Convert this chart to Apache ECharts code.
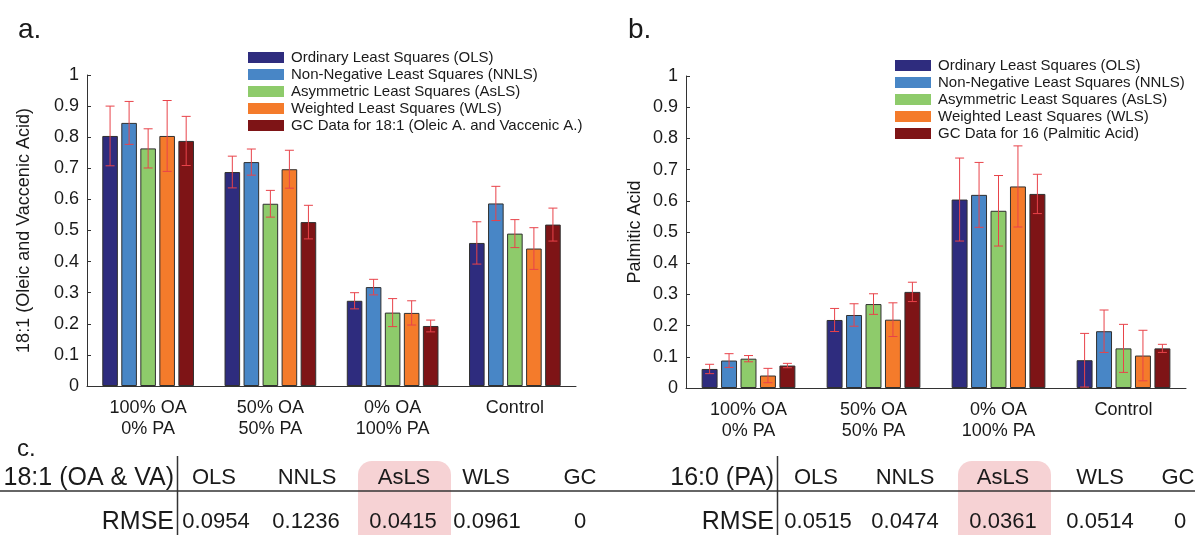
<!DOCTYPE html>
<html>
<head>
<meta charset="utf-8">
<script src="https://cdn.jsdelivr.net/npm/echarts@6/dist/echarts.min.js"></script>
<style>
html, body { margin: 0; padding: 0; background: #fff; }
#main { width: 1195px; height: 535px; }
</style>
</head>
<body>
<div id="main"></div>
<script>
// categories and legend names
var categories = ['100% OA\n0% PA', '50% OA\n50% PA', '0% OA\n100% PA', 'Control'];
var methodNames = ['Ordinary Least Squares (OLS)', 'Non-Negative Least Squares (NNLS)',
    'Asymmetric Least Squares (AsLS)', 'Weighted Least Squares (WLS)'];
var gcNameA = 'GC Data for 18:1 (Oleic A. and Vaccenic A.)';
var gcNameB = 'GC Data for 16 (Palmitic Acid)';

// a. 18:1 (oleic + vaccenic), bar height and error half-width
var olsA = [0.804, 0.688, 0.274, 0.460];
var nnlsA = [0.846, 0.720, 0.318, 0.587];
var aslsA = [0.764, 0.586, 0.236, 0.490];
var wlsA = [0.804, 0.697, 0.235, 0.442];
var gcA = [0.788, 0.527, 0.193, 0.519];
var olsErrA = [0.096, 0.051, 0.026, 0.068];
var nnlsErrA = [0.069, 0.042, 0.025, 0.055];
var aslsErrA = [0.063, 0.043, 0.045, 0.045];
var wlsErrA = [0.114, 0.061, 0.039, 0.067];
var gcErrA = [0.079, 0.054, 0.019, 0.053];

// b. palmitic acid
var olsB = [0.061, 0.218, 0.604, 0.089];
var nnlsB = [0.088, 0.234, 0.619, 0.182];
var aslsB = [0.094, 0.269, 0.568, 0.127];
var wlsB = [0.040, 0.219, 0.646, 0.104];
var gcB = [0.072, 0.308, 0.622, 0.127];
var olsErrB = [0.015, 0.037, 0.133, 0.086];
var nnlsErrB = [0.022, 0.036, 0.104, 0.068];
var aslsErrB = [0.010, 0.033, 0.113, 0.077];
var wlsErrB = [0.023, 0.054, 0.130, 0.081];
var gcErrB = [0.007, 0.031, 0.063, 0.013];

// c. RMSE table
var tableCols = ['OLS', 'NNLS', 'AsLS', 'WLS', 'GC'];
var rmseA = ['0.0954', '0.1236', '0.0415', '0.0961', '0'];
var rmseB = ['0.0515', '0.0474', '0.0361', '0.0514', '0'];

var colors = ['#2e2c7e', '#4886c6', '#8ecb6b', '#f47b2b', '#7e1416'];
var FONT = 'Liberation Sans, Arial, Helvetica, sans-serif';
var CAT_GAP = 0.25, BAR_GAP = 0.22, NSER = 5;

var chart = echarts.init(document.getElementById('main'), null, { renderer: 'canvas' });

// error bar: vertical line with caps, shifted to the bar's slot in the group
function errorItem(params, api) {
    var ci = api.value(0), v = api.value(1), e = api.value(2), si = api.value(3);
    var band = api.size([1, 0])[0];
    var group = band * (1 - CAT_GAP);
    var bw = group / (NSER + (NSER - 1) * BAR_GAP);
    var off = -group / 2 + bw / 2 + si * bw * (1 + BAR_GAP);
    var hi = api.coord([ci, v + e]);
    var lo = api.coord([ci, v - e]);
    var x = hi[0] + off;
    var cap = 4.5;
    var st = { stroke: '#e8434a', lineWidth: 1 };
    return {
        type: 'group',
        children: [
            { type: 'line', shape: { x1: x, y1: hi[1], x2: x, y2: lo[1] }, style: st },
            { type: 'line', shape: { x1: x - cap, y1: hi[1], x2: x + cap, y2: hi[1] }, style: st },
            { type: 'line', shape: { x1: x - cap, y1: lo[1], x2: x + cap, y2: lo[1] }, style: st }
        ]
    };
}

function errData(vals, errs) {
    var out = [];
    for (var s = 0; s < vals.length; s++) {
        for (var i = 0; i < vals[s].length; i++) {
            out.push([i, vals[s][i], errs[s][i], s]);
        }
    }
    return out;
}

var valsA = [olsA, nnlsA, aslsA, wlsA, gcA];
var errsA = [olsErrA, nnlsErrA, aslsErrA, wlsErrA, gcErrA];
var valsB = [olsB, nnlsB, aslsB, wlsB, gcB];
var errsB = [olsErrB, nnlsErrB, aslsErrB, wlsErrB, gcErrB];
var namesA = methodNames.concat([gcNameA]);
var namesB = methodNames.concat([gcNameB]);

var series = [];
function addBars(vals, names, idx) {
    for (var s = 0; s < vals.length; s++) {
        series.push({
            name: names[s],
            type: 'bar',
            xAxisIndex: idx,
            yAxisIndex: idx,
            data: vals[s],
            barCategoryGap: (CAT_GAP * 100) + '%',
            barGap: (BAR_GAP * 100) + '%',
            itemStyle: { color: colors[s], borderColor: '#303030', borderWidth: 1 },
            emphasis: { disabled: true },
            animation: false
        });
    }
}
addBars(valsA, namesA, 0);
addBars(valsB, namesB, 1);
series.push({ type: 'custom', xAxisIndex: 0, yAxisIndex: 0, renderItem: errorItem,
    data: errData(valsA, errsA), z: 5, animation: false, silent: true });
series.push({ type: 'custom', xAxisIndex: 1, yAxisIndex: 1, renderItem: errorItem,
    data: errData(valsB, errsB), z: 5, animation: false, silent: true });

function xAx(idx) {
    return {
        type: 'category', gridIndex: idx, data: categories,
        axisLine: { lineStyle: { color: '#333', width: 1 } },
        axisTick: { show: false },
        axisLabel: { fontSize: 18, color: '#1a1a1a', fontFamily: FONT, lineHeight: 21, margin: 12, interval: 0 }
    };
}
function yAx(idx, name, gap) {
    return {
        type: 'value', gridIndex: idx, min: 0, max: 1, interval: 0.1,
        name: name, nameLocation: 'middle', nameGap: gap,
        nameTextStyle: { fontSize: 18, color: '#1a1a1a', fontFamily: FONT },
        axisLine: { show: true, lineStyle: { color: '#333', width: 1 } },
        axisTick: { show: true, inside: true, length: 4, lineStyle: { color: '#333' } },
        splitLine: { show: false },
        axisLabel: { fontSize: 18, color: '#1a1a1a', fontFamily: FONT, margin: 8,
            formatter: function (v) { return String(Math.round(v * 10) / 10); } }
    };
}

function legend(names, left, top) {
    return {
        orient: 'vertical', left: left, top: top, data: names, padding: 0,
        itemWidth: 36, itemHeight: 11, itemGap: 2,
        icon: 'rect', selectedMode: false,
        itemStyle: { borderWidth: 0 },
        textStyle: { fontSize: 15, color: '#1a1a1a', fontFamily: FONT, padding: [0, 0, 0, 2] }
    };
}

// table graphics
var graphic = [];
function txt(x, y, s, size, align) {
    graphic.push({ type: 'text', x: x, y: y,
        style: { text: s, fontSize: size, fontFamily: FONT, fill: '#1a1a1a',
            textAlign: align || 'center', textVerticalAlign: 'middle' } });
}
txt(18, 30, 'a.', 28, 'left');
txt(628, 30, 'b.', 28, 'left');
txt(17, 449, 'c.', 24, 'left');

var HEAD_Y = 478, ROW_Y = 522, RULE_Y = 491;
var colXA = [214, 307, 404, 486, 580];
var valXA = [216, 306, 403, 487, 580];
var colXB = [816, 905, 1003, 1100, 1178];
var valXB = [818, 905, 1003, 1100, 1180];

// highlight boxes behind AsLS
graphic.push({ type: 'rect', x: 358, y: 461, shape: { width: 93, height: 90, r: 14 },
    style: { fill: '#f6d2d4' }, z: -1 });
graphic.push({ type: 'rect', x: 958, y: 461, shape: { width: 93, height: 90, r: 14 },
    style: { fill: '#f6d2d4' }, z: -1 });
graphic.push({ type: 'line', shape: { x1: 0, y1: RULE_Y, x2: 1195, y2: RULE_Y },
    style: { stroke: '#333', lineWidth: 1.5 } });
graphic.push({ type: 'line', shape: { x1: 177.5, y1: 456, x2: 177.5, y2: 535 },
    style: { stroke: '#333', lineWidth: 1.5 } });
graphic.push({ type: 'line', shape: { x1: 777.5, y1: 456, x2: 777.5, y2: 535 },
    style: { stroke: '#333', lineWidth: 1.5 } });

txt(174, HEAD_Y, '18:1 (OA & VA)', 25, 'right');
txt(174, ROW_Y, 'RMSE', 25, 'right');
txt(774, HEAD_Y, '16:0 (PA)', 25, 'right');
txt(774, ROW_Y, 'RMSE', 25, 'right');
for (var k = 0; k < tableCols.length; k++) {
    txt(colXA[k], HEAD_Y, tableCols[k], 22);
    txt(valXA[k], ROW_Y, rmseA[k], 22);
    txt(colXB[k], HEAD_Y, tableCols[k], 22);
    txt(valXB[k], ROW_Y, rmseB[k], 22);
}

var option = {
    backgroundColor: '#fff',
    animation: false,
    textStyle: { fontFamily: FONT },
    grid: [
        { left: 87, top: 75, width: 489, height: 311 },
        { left: 686, top: 76, width: 500, height: 312 }
    ],
    xAxis: [xAx(0), xAx(1)],
    yAxis: [yAx(0, '18:1 (Oleic and Vaccenic Acid)', 54), yAx(1, 'Palmitic Acid', 42)],
    legend: [legend(namesA, 248, 50), legend(namesB, 895, 58)],
    series: series,
    graphic: graphic
};
chart.setOption(option);
</script>
</body>
</html>
